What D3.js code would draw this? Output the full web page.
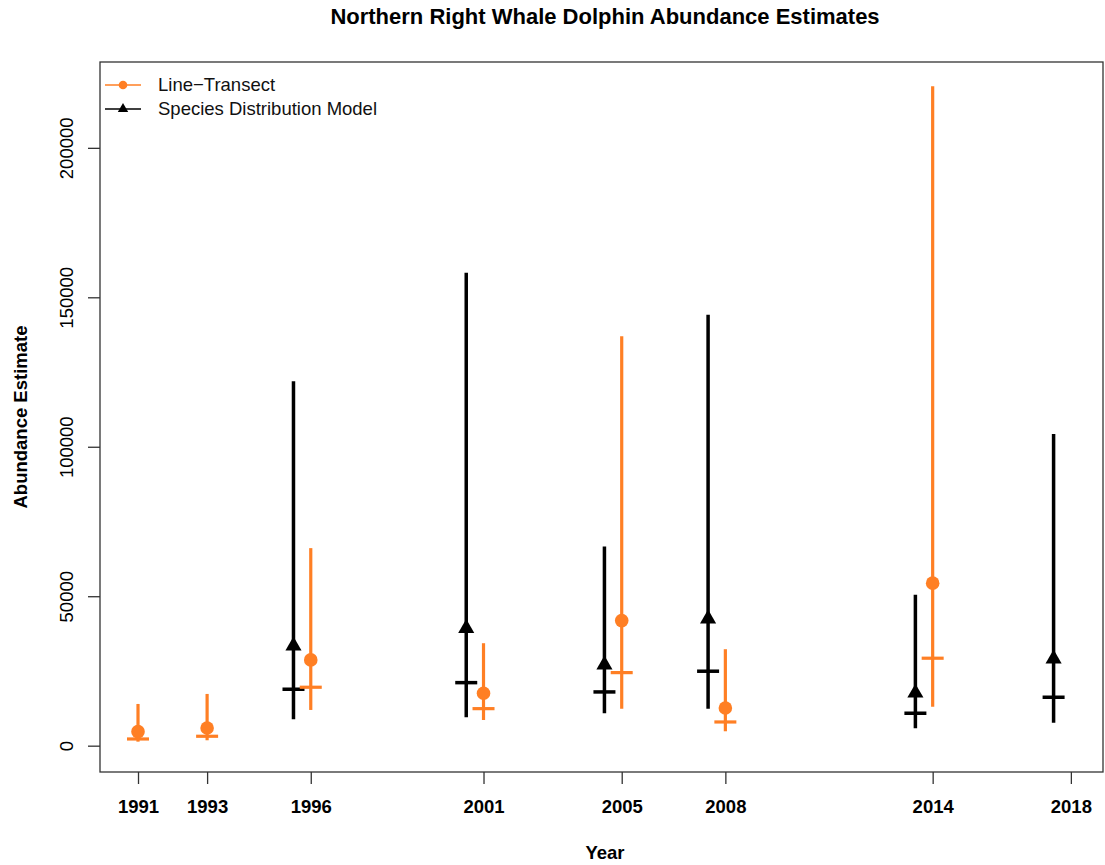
<!DOCTYPE html>
<html>
<head>
<meta charset="utf-8">
<script src="https://cdn.jsdelivr.net/npm/d3@7"></script>
<style>
  html, body { margin: 0; padding: 0; background: #fff; }
  svg { display: block; font-family: "Liberation Sans", Arial, sans-serif; }
</style>
</head>
<body>
<svg id="chart" width="1105" height="865"></svg>
<script>
// ---- Data ----
const tickYears = [1991, 1993, 1996, 2001, 2005, 2008, 2014, 2018];
const yTicks = [0, 50000, 100000, 150000, 200000];

// Line-Transect (orange)
const ltYears = [1991, 1993, 1996, 2001, 2005, 2008, 2014];
const ltEstimate = [4690, 5930, 28690, 17540, 41850, 12620, 54370];
const ltMedian = [2240, 3150, 19550, 12390, 24440, 7930, 29260];
const ltLower = [1340, 1810, 11950, 8600, 12390, 4820, 13060];
const ltUpper = [13960, 17310, 66090, 34280, 136930, 32270, 220620];

// Species Distribution Model (black)
const sdmYears = [1996, 2001, 2005, 2008, 2014, 2018];
const sdmEstimate = [33380, 39240, 27020, 42420, 17640, 29030];
const sdmMedian = [18880, 21090, 17980, 24910, 10850, 16200];
const sdmLower = [8840, 9510, 10850, 12390, 5830, 7700];
const sdmUpper = [121950, 158190, 66620, 144190, 50450, 104250];

const seriesNames = ["Line\u2212Transect", "Species Distribution Model"];
const chartTitle = "Northern Right Whale Dolphin Abundance Estimates";
const xTitle = "Year";
const yTitle = "Abundance Estimate";

// ---- Layout ----
const ORANGE = "#FF7F24";
const BLACK = "#000000";
const plotLeft = 100, plotRight = 1103, plotTop = 62, plotBottom = 772;
const sdmOffset = -0.5;

const svg = d3.select("#chart");

const x = d3.scaleLinear().domain([1989.9, 2018.93]).range([plotLeft, plotRight]);
const y = d3.scaleLinear().domain([-8805, 228715]).range([plotBottom, plotTop]);

// Title
svg.append("text")
  .attr("x", 605).attr("y", 24)
  .attr("text-anchor", "middle")
  .attr("font-size", 22).attr("font-weight", "bold")
  .text(chartTitle);

// Box
svg.append("rect")
  .attr("x", plotLeft).attr("y", plotTop)
  .attr("width", plotRight - plotLeft).attr("height", plotBottom - plotTop)
  .attr("fill", "none").attr("stroke", "#333").attr("stroke-width", 1.3);

// X axis
const xAxis = d3.axisBottom(x).tickValues(tickYears).tickFormat(d3.format("d")).tickSize(12).tickPadding(16);
const gx = svg.append("g").attr("transform", `translate(0,${plotBottom})`).call(xAxis);
gx.select(".domain").remove();
gx.selectAll(".tick line").attr("stroke", "#333").attr("stroke-width", 1.3);
gx.selectAll(".tick text").attr("font-size", 18.5).attr("font-weight", "bold")
  .attr("font-family", "Liberation Sans, Arial, sans-serif").attr("fill", "#000");

// Y axis
const yAxis = d3.axisLeft(y).tickValues(yTicks).tickFormat(d3.format("d")).tickSize(12);
const gy = svg.append("g").attr("transform", `translate(${plotLeft},0)`).call(yAxis);
gy.select(".domain").remove();
gy.selectAll(".tick line").attr("stroke", "#333").attr("stroke-width", 1.3);
gy.selectAll(".tick text")
  .attr("font-size", 18.5)
  .attr("font-family", "Liberation Sans, Arial, sans-serif")
  .attr("fill", "#000")
  .attr("x", null).attr("dy", null)
  .attr("text-anchor", "middle")
  .attr("transform", "translate(-27,0) rotate(-90)");

// Axis titles
svg.append("text")
  .attr("x", 605).attr("y", 859)
  .attr("text-anchor", "middle")
  .attr("font-size", 18.5).attr("font-weight", "bold")
  .text(xTitle);
svg.append("text")
  .attr("transform", `translate(27,${(plotTop + plotBottom) / 2}) rotate(-90)`)
  .attr("text-anchor", "middle")
  .attr("font-size", 18.5).attr("font-weight", "bold")
  .text(yTitle);

// ---- Marks ----
function drawSeries(years, est, med, lo, hi, color, offset, shape, lw) {
  const g = svg.append("g");
  const data = years.map((yr, i) => ({ yr: yr + offset, est: est[i], med: med[i], lo: lo[i], hi: hi[i] }));
  g.selectAll("line.ci").data(data).join("line").attr("class", "ci")
    .attr("x1", d => x(d.yr)).attr("x2", d => x(d.yr))
    .attr("y1", d => y(d.lo)).attr("y2", d => y(d.hi))
    .attr("stroke", color).attr("stroke-width", lw);
  g.selectAll("line.med").data(data).join("line").attr("class", "med")
    .attr("x1", d => x(d.yr) - 11).attr("x2", d => x(d.yr) + 11)
    .attr("y1", d => y(d.med)).attr("y2", d => y(d.med))
    .attr("stroke", color).attr("stroke-width", lw);
  if (shape === "circle") {
    g.selectAll("circle").data(data).join("circle")
      .attr("cx", d => x(d.yr)).attr("cy", d => y(d.est)).attr("r", 6.8)
      .attr("fill", color);
  } else {
    const r = 9.3;
    g.selectAll("path").data(data).join("path")
      .attr("d", d => {
        const cx = x(d.yr), cy = y(d.est);
        const hw = r * Math.sqrt(3) / 2;
        return `M${cx},${cy - r}L${cx + hw},${cy + r / 2}L${cx - hw},${cy + r / 2}Z`;
      })
      .attr("fill", color);
  }
}

drawSeries(sdmYears, sdmEstimate, sdmMedian, sdmLower, sdmUpper, BLACK, sdmOffset, "triangle", 3.5);
drawSeries(ltYears, ltEstimate, ltMedian, ltLower, ltUpper, ORANGE, 0, "circle", 3.2);

// ---- Legend ----
const legend = svg.append("g");
const legendRows = [
  { name: seriesNames[0], color: ORANGE, shape: "circle", y: 85 },
  { name: seriesNames[1], color: BLACK, shape: "triangle", y: 109 }
];
legendRows.forEach(row => {
  legend.append("line")
    .attr("x1", 105).attr("x2", 141).attr("y1", row.y).attr("y2", row.y)
    .attr("stroke", row.color).attr("stroke-width", 1.3);
  if (row.shape === "circle") {
    legend.append("circle").attr("cx", 123).attr("cy", row.y).attr("r", 4.3).attr("fill", row.color);
  } else {
    const r = 6;
    const hw = r * Math.sqrt(3) / 2;
    legend.append("path")
      .attr("d", `M123,${row.y - r}L${123 + hw},${row.y + r / 2}L${123 - hw},${row.y + r / 2}Z`)
      .attr("fill", row.color);
  }
  legend.append("text")
    .attr("x", 158).attr("y", row.y).attr("dy", "0.35em")
    .attr("font-size", 18.5).attr("fill", "#111")
    .text(row.name);
});
</script>
</body>
</html>
